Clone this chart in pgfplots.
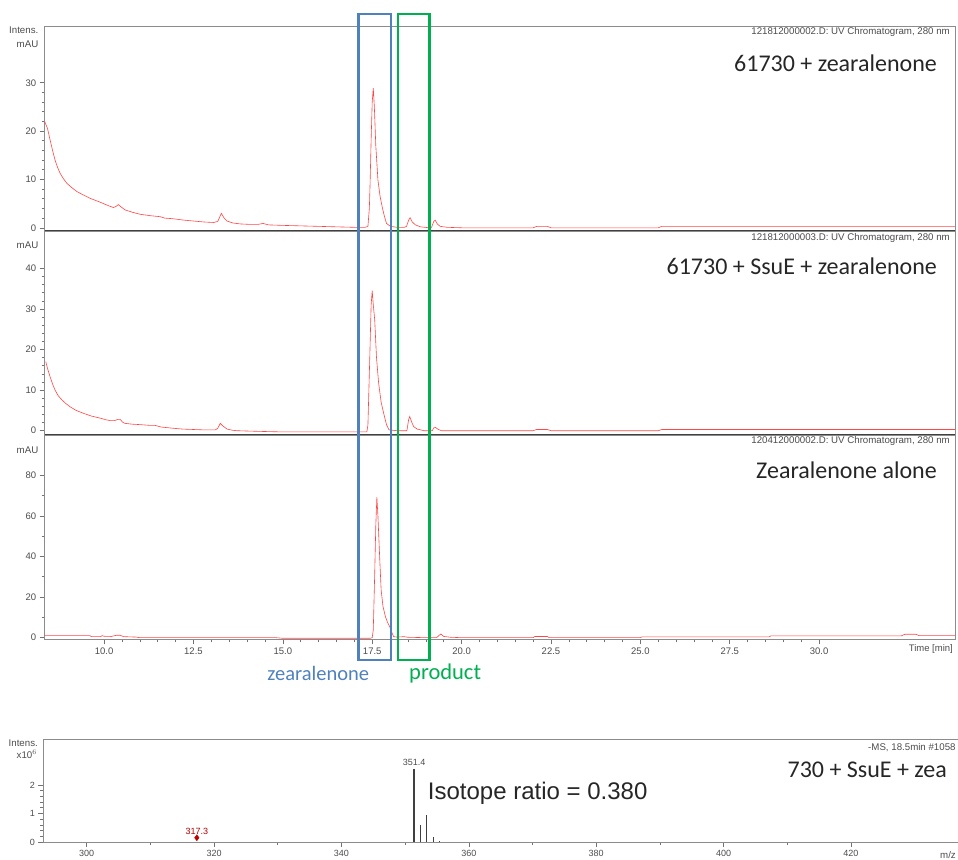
\documentclass[border=0pt]{standalone}
\usepackage{pgfplots}
\pgfplotsset{compat=1.18}
\usepackage{fontspec}
\setmainfont{Liberation Sans}
\newfontfamily\calibri{Carlito}

\definecolor{trace}{RGB}{255,70,70}
\definecolor{zblue}{RGB}{79,129,189}
\definecolor{pgreen}{RGB}{0,176,80}

\pgfplotsset{
  base/.style={scale only axis, anchor=north west, clip=false,
    axis line style={black!45, line width=0.8pt},
    tick style={black!55, line width=0.6pt},
    major tick length=5pt, minor tick length=3pt, tick align=outside,
    xtick pos=bottom, ytick pos=left,
    ticklabel style={font=\fontsize{9.5}{10}\selectfont, text=black!70},
    /pgf/number format/assume math mode=true},
  chrom/.style={base, width=910.3pt, xmin=8.34, xmax=33.8},
  tr/.style={no marks, trace, line width=0.6pt},
}
\tikzset{
  small/.style={font=\fontsize{9.7}{10}\selectfont, text=black!70, inner sep=0pt},
  big/.style={font=\calibri\fontsize{24}{26}\selectfont, text=black!85, inner sep=0pt},
}

\begin{document}
\begin{tikzpicture}

% panel 1
\begin{axis}[chrom, at={(44.7pt,-26.7pt)}, height=204pt,
  ymin=-0.6, ymax=41.6, ytick={0,10,20,30}, minor y tick num=4, xtick=\empty]
\addplot[tr] coordinates {
(8.34,22.0) (8.42,20.5) (8.49,18.2) (8.56,16.0) (8.63,14.0) (8.70,12.5) (8.77,11.3)
(8.86,10.2) (8.96,9.2) (9.10,8.3) (9.24,7.5) (9.42,6.8) (9.61,6.1) (9.75,5.7)
(9.89,5.3) (10.05,4.8) (10.15,4.5) (10.26,4.2) (10.33,4.4) (10.40,4.8) (10.48,4.3)
(10.59,3.7) (10.80,3.2) (11.01,2.8) (11.30,2.5) (11.57,2.3) (11.70,2.0) (11.90,1.9)
(12.22,1.6) (12.50,1.4) (12.80,1.2) (13.06,1.1) (13.18,1.3) (13.28,3.0) (13.36,2.0)
(13.44,1.4) (13.60,1.0) (13.81,0.8) (14.09,0.7) (14.30,0.7) (14.45,0.9) (14.60,0.6)
(15.00,0.5) (15.50,0.4) (16.00,0.3) (16.50,0.2) (17.00,0.1) (17.30,0.1) (17.38,0.3)
(17.42,4.0) (17.44,9.0) (17.47,18.2) (17.50,26.0) (17.53,28.9) (17.56,25.0) (17.60,17.0)
(17.66,9.9) (17.72,6.5) (17.78,4.3) (17.84,2.4) (17.90,0.9) (18.01,0.3) (18.20,0.1)
(18.40,0.1) (18.46,0.3) (18.52,1.6) (18.56,2.1) (18.62,1.2) (18.71,0.6) (18.85,0.2)
(19.10,0.0) (19.16,0.1) (19.22,1.3) (19.26,1.6) (19.32,0.8) (19.40,0.3) (19.60,0.1)
(20.00,0.0) (22.00,0.0) (22.10,0.3) (22.40,0.3) (22.50,0.0) (25.50,0.0) (25.60,0.3)
(33.80,0.3)};
\draw[black!75, line width=1.6pt] (rel axis cs:0,0) -- (rel axis cs:1,0);
\end{axis}

% panel 2
\begin{axis}[chrom, at={(44.7pt,-231pt)}, height=204pt,
  ymin=-1.06, ymax=49.2, ytick={0,10,20,30,40}, minor y tick num=4, xtick=\empty]
\addplot[tr] coordinates {
(8.37,17.0) (8.43,15.0) (8.49,13.3) (8.56,11.5) (8.63,10.0) (8.72,8.6) (8.82,7.6)
(8.93,6.7) (9.05,5.9) (9.22,5.0) (9.42,4.3) (9.65,3.6) (9.89,3.1) (10.05,2.7)
(10.17,2.5) (10.30,2.5) (10.38,2.8) (10.45,2.8) (10.52,2.1) (10.59,1.8) (10.80,1.6)
(11.01,1.5) (11.30,1.3) (11.43,1.3) (11.60,0.9) (11.94,0.6) (12.20,0.4) (12.49,0.3)
(12.80,0.2) (13.11,0.2) (13.18,0.6) (13.25,1.8) (13.32,1.2) (13.44,0.4) (13.60,0.1)
(13.72,0.0) (14.09,-0.1) (14.50,-0.2) (15.00,-0.3) (16.00,-0.3) (17.00,-0.3) (17.35,-0.3)
(17.38,1.4) (17.43,17.4) (17.47,31.0) (17.50,34.5) (17.53,31.0) (17.57,27.3) (17.62,18.0)
(17.68,11.7) (17.75,7.0) (17.82,4.3) (17.90,1.5) (17.97,0.2) (18.20,0.0) (18.47,0.0)
(18.52,2.8) (18.55,3.5) (18.60,2.2) (18.66,1.0) (18.76,0.4) (18.95,0.0) (19.18,0.0)
(19.22,0.7) (19.27,0.8) (19.35,0.3) (19.44,0.0) (22.00,0.0) (22.10,0.3) (22.40,0.3)
(22.50,0.0) (25.50,0.0) (25.60,0.3) (33.80,0.3)};
\draw[black!75, line width=1.6pt] (rel axis cs:0,0) -- (rel axis cs:1,0);
\end{axis}

% panel 3
\begin{axis}[chrom, at={(44.7pt,-435pt)}, height=204.3pt,
  ymin=-0.8, ymax=99.8, ytick={0,20,40,60,80}, minor y tick num=1,
  xtick={10,12.5,...,30}, minor x tick num=4,
  xticklabel style={/pgf/number format/.cd, fixed, fixed zerofill, precision=1}]
\addplot[tr] coordinates {
(8.34,1.0) (9.60,1.0) (9.65,0.5) (9.90,0.5) (9.95,1.0) (10.00,0.7) (10.20,0.6)
(10.35,1.2) (10.45,1.2) (10.55,0.5) (10.90,0.3) (11.00,0.0) (14.80,0.0) (15.00,-0.3)
(17.45,-0.3) (17.50,0.0) (17.53,3.8) (17.57,31.7) (17.60,55.0) (17.63,69.2) (17.66,60.0)
(17.68,51.4) (17.72,35.0) (17.75,23.5) (17.80,15.5) (17.87,10.3) (17.93,7.5) (17.99,5.4)
(18.05,2.5) (18.10,0.5) (18.20,0.3) (18.39,0.5) (18.50,0.2) (19.00,0.0) (19.30,0.0)
(19.38,1.3) (19.42,1.8) (19.50,0.6) (19.70,0.2) (20.00,0.0) (22.00,0.0) (22.05,0.6)
(22.40,0.6) (22.45,0.0) (25.00,0.0) (25.05,0.4) (28.60,0.4) (28.65,0.9) (32.30,0.9)
(32.40,1.7) (32.70,1.7) (32.80,1.0) (33.80,1.0)};
\draw[zblue, line width=2.6pt] (axis cs:17.12,-11) rectangle (axis cs:18.03,307.1);
\draw[pgreen, line width=2.6pt] (axis cs:18.22,-11) rectangle (axis cs:19.11,307.1);
\end{axis}

% mass spectrum
\begin{axis}[base, at={(43.3pt,-739pt)}, width=918pt, height=103pt,
  xmin=293.19, xmax=437.33, ymin=0, ymax=3.61,
  ytick={0,1,2}, minor y tick num=4,
  xtick={300,320,...,420}, minor x tick num=1,
  ticklabel style={font=\fontsize{9}{10}\selectfont}]
\addplot[ycomb, black!75, line width=1.1pt] coordinates {
(352.4,0.6) (353.4,0.95) (354.4,0.19) (355.4,0.04)};
\addplot[ycomb, black!75, line width=1.1pt, nodes near coords, point meta=explicit symbolic,
  nodes near coords style={font=\fontsize{9}{10}\selectfont, text=black!70}]
  coordinates {(351.4,2.55) [351.4]};
\addplot[only marks, mark=diamond*, mark size=3pt, color=red!75!black, nodes near coords,
  point meta=explicit symbolic,
  nodes near coords style={font=\fontsize{9}{10}\selectfont, text=red!70!black}]
  coordinates {(317.3,0.15) [317.3]};
\end{axis}

% texts
\node[small, anchor=east] at (38.5pt,-30pt) {Intens.};
\node[small, anchor=east] at (38.5pt,-44pt) {mAU};
\node[small, anchor=east] at (38.5pt,-245pt) {mAU};
\node[small, anchor=east] at (38.5pt,-450.5pt) {mAU};
\node[small, anchor=east] at (38pt,-743pt) {Intens.};
\node[small, anchor=east] at (37pt,-754pt) {x10$^{6}$};

\node[small, anchor=east] at (950pt,-32pt) {121812000002.D: UV Chromatogram, 280 nm};
\node[small, anchor=east] at (950pt,-238pt) {121812000003.D: UV Chromatogram, 280 nm};
\node[small, anchor=east] at (950pt,-440.5pt) {120412000002.D: UV Chromatogram, 280 nm};
\node[small, anchor=west] at (868pt,-748pt) {-MS, 18.5min \#1058};

\node[big, anchor=east] at (937pt,-63pt) {61730 + zearalenone};
\node[big, anchor=east] at (937pt,-266.7pt) {61730 + SsuE + zearalenone};
\node[big, anchor=east] at (937pt,-470.5pt) {Zearalenone alone};
\node[big, anchor=east] at (947pt,-770pt) {730 + SsuE + zea};
\node[anchor=west, inner sep=0pt, font=\fontsize{24}{26}\selectfont, text=black!85] at (427.7pt,-793pt) {Isotope ratio = 0.380};

\node[small, anchor=east, font=\fontsize{9.5}{10}\selectfont] at (953pt,-649pt) {Time [min]};
\node[small, anchor=east] at (956pt,-855pt) {m/z};

\node[anchor=east, inner sep=0pt, font=\calibri\fontsize{20.5}{23}\selectfont, text=zblue] at (369.3pt,-673.3pt) {zearalenone};
\node[anchor=west, inner sep=0pt, font=\calibri\fontsize{22.5}{24}\selectfont, text=pgreen] at (409pt,-673.3pt) {product};

\pgfresetboundingbox
\path[use as bounding box] (0pt,0pt) rectangle (958pt,-859pt);
\end{tikzpicture}
\end{document}
